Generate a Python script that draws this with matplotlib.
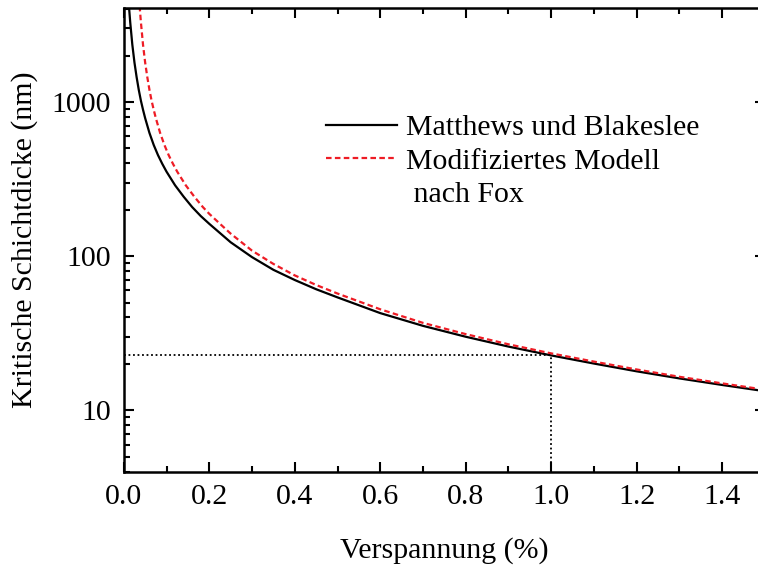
import matplotlib
matplotlib.use('Agg')
import matplotlib.pyplot as plt
from matplotlib.lines import Line2D
from matplotlib.ticker import LogLocator, MultipleLocator, FixedLocator

# Werte
# Matthews und Blakeslee
mb_strain = [0.012, 0.015, 0.02, 0.025, 0.03, 0.035, 0.04, 0.045, 0.05, 0.06,
             0.07, 0.08, 0.09, 0.1, 0.12, 0.14, 0.16, 0.18, 0.2, 0.25, 0.3,
             0.35, 0.4, 0.45, 0.5, 0.6, 0.7, 0.8, 0.9, 1.0, 1.1, 1.2, 1.3,
             1.4, 1.5]
mb_dicke = [4200, 3300, 2350, 1800, 1450, 1200, 1020, 890, 785, 630,
            526, 452, 397, 353, 288, 243, 208, 182, 162, 123, 98.5,
            81.5, 70, 61, 54, 42.7, 35.3, 30.0, 25.9, 22.7, 20.1, 17.9, 16.1,
            14.6, 13.3]

# Modifiziertes Modell nach Fox
fox_strain = [0.037, 0.04, 0.045, 0.05, 0.055, 0.06, 0.065, 0.07, 0.075, 0.085,
              0.095, 0.105, 0.115, 0.125, 0.145, 0.165, 0.185, 0.2, 0.225, 0.25,
              0.3, 0.35, 0.4, 0.45, 0.5, 0.6, 0.7, 0.8, 0.9, 1.0, 1.1, 1.2,
              1.3, 1.4, 1.5]
fox_dicke = [4200, 3300, 2350, 1800, 1450, 1200, 1020, 890, 785, 630,
             526, 452, 397, 353, 288, 243, 208, 188, 162, 140,
             108.5, 89, 75, 65, 57.2, 45.2, 36.9, 31.2, 26.8, 23.4, 20.7, 18.4,
             16.5, 14.95, 13.6]

# Markierung bei 1 % Verspannung
mark_strain = 1.0
mark_dicke = 22.7

plt.rcParams['font.family'] = ['Liberation Serif', 'DejaVu Serif']
plt.rcParams['font.size'] = 21.5

fig = plt.figure(figsize=(7.58, 5.70), dpi=100)
ax = fig.add_axes([0.1633, 0.1725, 0.8459, 0.813])

rot = '#ee1c25'
strich = (0, (2.5, 1.5))

ax.plot(mb_strain, mb_dicke, color='black', lw=1.6)
ax.plot(fox_strain, fox_dicke, color=rot, lw=1.6, linestyle=strich)

ymin, ymax = 4.0, 4050
ax.plot([0, mark_strain], [mark_dicke, mark_dicke], color='black', lw=1.3, linestyle=(0, (1, 1.5)))
ax.plot([mark_strain, mark_strain], [ymin, mark_dicke], color='black', lw=1.3, linestyle=(0, (1, 1.5)))

ax.set_yscale('log')
ax.set_xlim(0, 1.5)
ax.set_ylim(ymin, ymax)

ax.xaxis.set_major_locator(FixedLocator([0, 0.2, 0.4, 0.6, 0.8, 1.0, 1.2, 1.4]))
ax.xaxis.set_minor_locator(MultipleLocator(0.1))
ax.set_xticklabels(['0.0', '0.2', '0.4', '0.6', '0.8', '1.0', '1.2', '1.4'])
ax.yaxis.set_major_locator(FixedLocator([10, 100, 1000]))
ax.set_yticklabels(['10', '100', '1000'])
ax.yaxis.set_minor_locator(LogLocator(base=10, subs=range(2, 10)))
ax.yaxis.set_minor_formatter(plt.NullFormatter())

ax.tick_params(which='both', direction='in', top=True, right=True, width=1.5)
ax.tick_params(which='major', length=7, pad=9)
ax.tick_params(which='minor', length=4)
for s in ax.spines.values():
    s.set_linewidth(1.8)

ax.set_xlabel('Verspannung (%)', labelpad=19)
ax.set_ylabel('Kritische Schichtdicke (nm)', labelpad=10)

handles = [Line2D([], [], color='black', lw=1.6),
           Line2D([], [], color=rot, lw=1.6, linestyle=strich),
           Line2D([], [], color='none')]
labels = ['Matthews und Blakeslee', 'Modifiziertes Modell', ' nach Fox']
ax.legend(handles, labels, loc='upper left', bbox_to_anchor=(0.315, 0.771),
          frameon=False, borderpad=0, borderaxespad=0, handlelength=2.4,
          handletextpad=0.3, labelspacing=0.22)

fig.savefig('out.png', dpi=100)
